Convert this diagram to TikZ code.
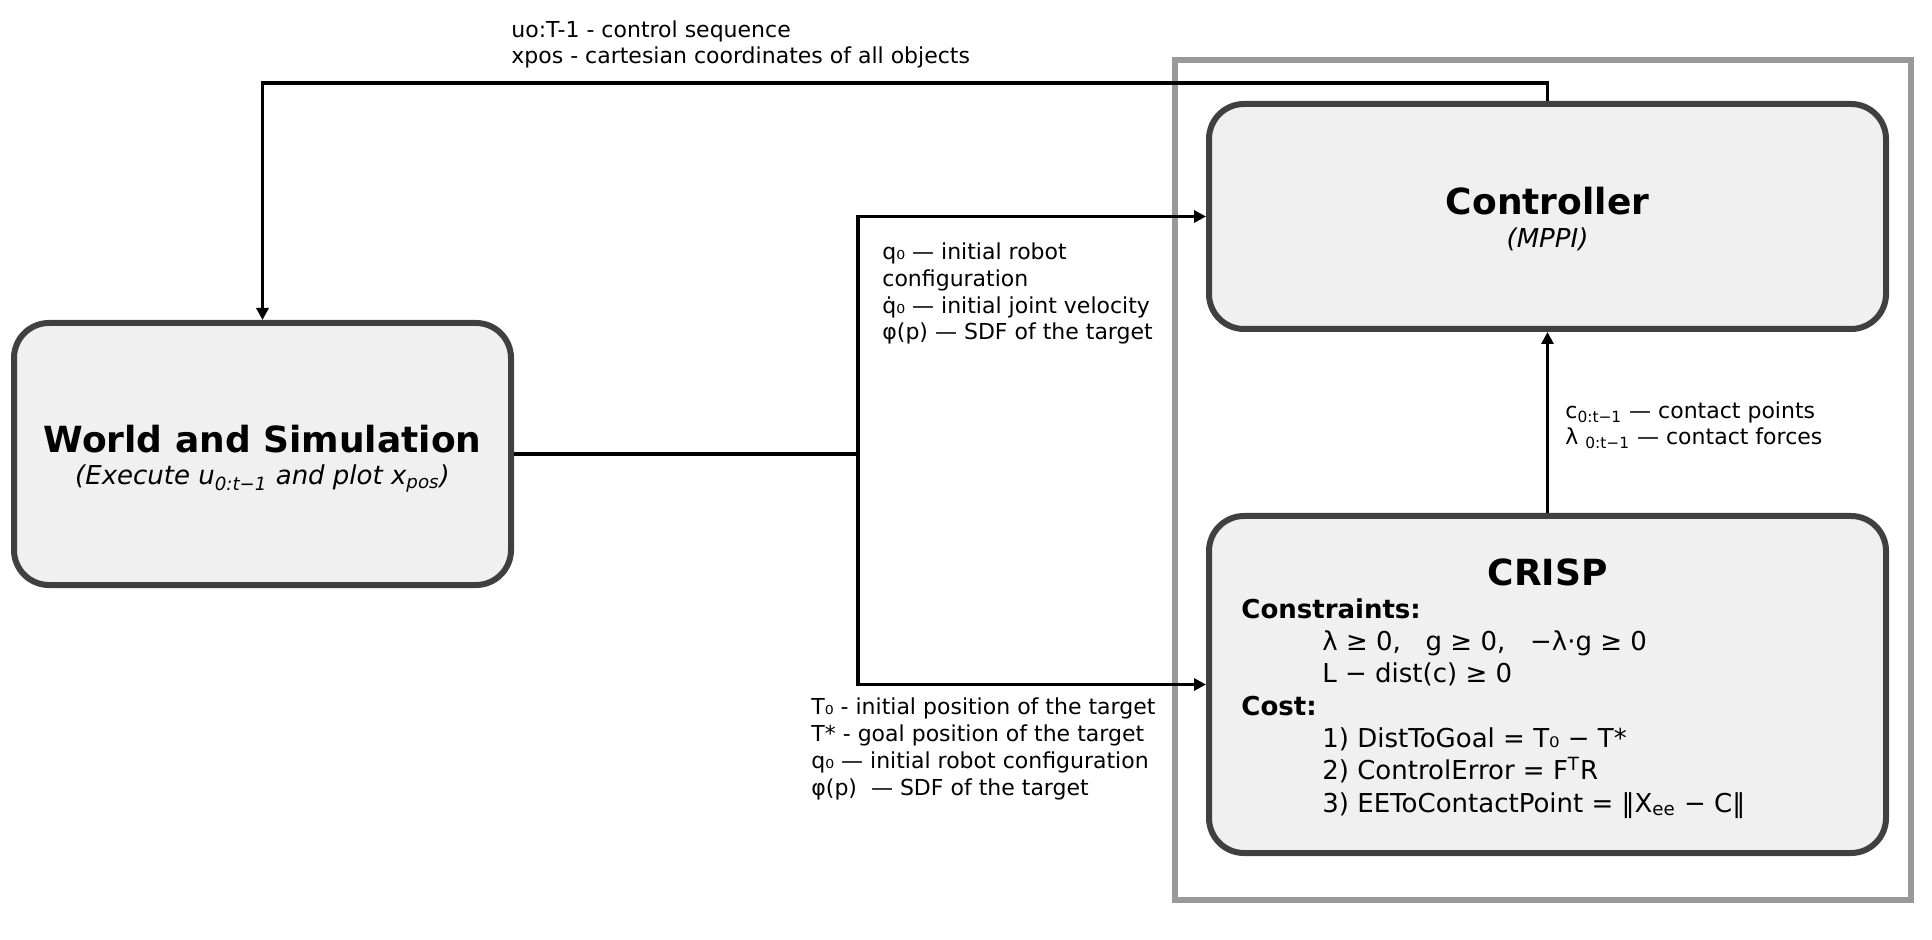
\documentclass[tikz,border=0pt]{standalone}
\usepackage{fontspec}
\setmainfont{DejaVu Sans}
\usetikzlibrary{arrows.meta,positioning}
\definecolor{boxline}{HTML}{404040}
\definecolor{boxfill}{HTML}{F0F0F0}
\definecolor{groupline}{HTML}{999999}

\begin{document}
\begin{tikzpicture}[x=0.5pt,y=-0.5pt]
\tikzstyle{block} = [
	shape=rectangle,
	rounded corners=17.5pt, %round the corners of the box
	draw=boxline,
	fill=boxfill,
	line width=3pt,
	inner sep=0pt
];
\tikzstyle{group} = [
	shape=rectangle,
	draw=groupline,
	line width=3pt,
	inner sep=0pt
];
\tikzstyle{title} = [anchor=base, inner sep=0pt, font=\fontsize{18}{21}\selectfont\bfseries];
\tikzstyle{subtitle} = [anchor=base, inner sep=0pt, font=\fontsize{13}{16}\selectfont\itshape];
\tikzstyle{note} = [anchor=base west, inner sep=0pt, align=left, font=\fontsize{11}{13.35}\selectfont];
\tikzstyle{body} = [anchor=base west, inner sep=0pt, align=left, font=\fontsize{13}{16.15}\selectfont];
\tikzstyle{flow} = [-{Triangle[length=6pt,width=6pt]}, line width=1.6pt, color=black];

\useasboundingbox (0,0) rectangle (1932,940);

%solver group
\node[group, minimum width=368pt, minimum height=420pt](solver) at (1543,480) {};

%blocks
\node[block, minimum width=248.5pt, minimum height=131pt](world) at (262.5,454) {};
\node[block, minimum width=338.5pt, minimum height=112.5pt](ctrl) at (1547.5,216.5) {};
\node[block, minimum width=338.5pt, minimum height=168.5pt](crisp) at (1547.5,684.5) {};

\node[title](worldtitle) at (262.5,453) {World and Simulation};
\node[subtitle](worldsub) at (262.5,485) {(Execute u\textsubscript{0:t−1} and plot x\textsubscript{pos})};
\node[title](ctrltitle) at (1547.5,215) {Controller};
\node[subtitle](ctrlsub) at (1547.5,248) {(MPPI)};
\node[title](crisptitle) at (1547.5,585) {CRISP};
%multi-line texts sit on their last baseline
\node[body](crispbody) at (1241,812) {\textbf{Constraints:}\\
	\hspace*{40.5pt}λ ≥ 0,\ \ \ g ≥ 0,\ \ \ −λ·g ≥ 0\\
	\hspace*{40.5pt}L − dist(c) ≥ 0\\
	\textbf{Cost:}\\
	\hspace*{40.5pt}1) DistToGoal = T₀ − T*\\
	\hspace*{40.5pt}2) ControlError = F\textsuperscript{T}R\\
	\hspace*{40.5pt}3) EEToContactPoint = ‖X\textsubscript{ee} − C‖};

%turning points
\coordinate (fb) at (1547.5,83);
\coordinate (split) at (858,454);

%feedback to the world
\draw[flow] (ctrl.north) -- (fb) -| (world.north);
\node[note](fblabel) at (511,64) {uo:T-1 - control sequence\\xpos - cartesian coordinates of all objects};

%initial state
\draw[line width=1.6pt] (world.east) -- (split);
\draw[flow] (split) |- (ctrl.west);
\draw[flow] (split) |- (crisp.west);
\node[note](ctrllabel) at (882,340) {q₀ — initial robot\\configuration\\\.{q}₀ — initial joint velocity\\φ(p) — SDF of the target};
\node[note](crisplabel) at (811,795) {T₀ - initial position of the target\\T* - goal position of the target\\q₀ — initial robot configuration\\φ(p)\ \ — SDF of the target};

%contacts
\draw[flow] (crisp.north) -- (ctrl.south);
\node[note](contactlabel) at (1565,445) {c\textsubscript{0:t−1} — contact points\\λ \textsubscript{0:t−1} — contact forces};
\end{tikzpicture}
\end{document}
